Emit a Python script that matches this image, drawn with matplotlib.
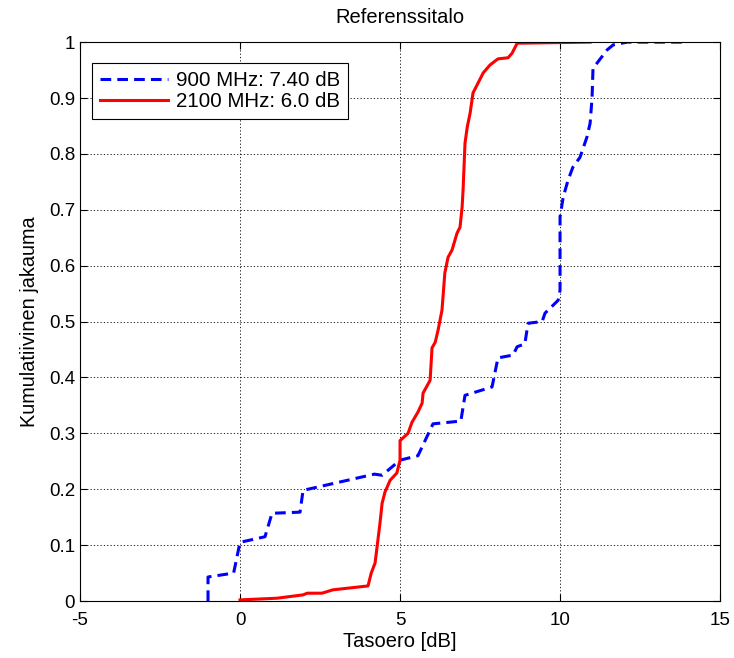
import numpy as np
import matplotlib
matplotlib.use('Agg')
import matplotlib.pyplot as plt

plt.rcParams['font.family'] = ['Liberation Sans', 'DejaVu Sans']
plt.rcParams['axes.unicode_minus'] = False

# 900 MHz cumulative distribution
x900 = [-1.0, -1.0, -0.2, 0.0, 0.78, 1.0, 1.875, 1.97, 4.2, 4.44, 5.0, 5.56, 6.03,
        6.56, 6.9, 7.03, 7.875, 8.06, 8.53, 8.66, 8.9, 9.0, 9.44, 9.53, 9.94,
        10.0, 10.0, 10.1, 10.25, 10.4, 10.625, 10.84, 10.94, 11.0, 11.03, 11.47,
        11.66, 12.1, 14.0]
y900 = [0.0, 0.043, 0.05, 0.105, 0.115, 0.157, 0.159, 0.198, 0.227, 0.225, 0.252, 0.26, 0.317,
        0.32, 0.322, 0.368, 0.383, 0.435, 0.44, 0.455, 0.46, 0.497, 0.5, 0.515, 0.538,
        0.556, 0.687, 0.723, 0.753, 0.776, 0.794, 0.83, 0.855, 0.9, 0.953, 0.986,
        0.995, 1.0, 1.0]

# 2100 MHz cumulative distribution
x2100 = [0.0, 1.15, 1.97, 2.1, 2.56, 2.9, 4.0, 4.1, 4.22, 4.375, 4.44, 4.53, 4.69, 4.9,
         5.0, 5.0, 5.25, 5.375, 5.56, 5.69, 5.72, 5.94, 6.0, 6.1, 6.19, 6.31, 6.34,
         6.4, 6.5, 6.625, 6.78, 6.875, 6.94, 6.97, 7.03, 7.1, 7.19, 7.28, 7.44, 7.6,
         7.81, 8.06, 8.375, 8.5, 8.66, 10.94]
y2100 = [0.002, 0.005, 0.011, 0.014, 0.014, 0.02, 0.027, 0.05, 0.068, 0.14, 0.175, 0.195, 0.216, 0.229,
         0.252, 0.287, 0.30, 0.32, 0.338, 0.354, 0.372, 0.395, 0.453, 0.463, 0.485, 0.52, 0.542,
         0.587, 0.615, 0.628, 0.658, 0.669, 0.705, 0.735, 0.819, 0.848, 0.873, 0.909, 0.927, 0.945,
         0.959, 0.97, 0.972, 0.98, 0.998, 1.0]

fig = plt.figure(figsize=(7.34, 6.58), dpi=100)
ax = fig.add_axes([0.109, 0.0866, 0.872, 0.8494])

ax.plot(x900, y900, color='#0000ff', lw=2.2, ls=(0, (3.5, 2)), label='900 MHz: 7.40 dB')
ax.plot(x2100, y2100, color='#ff0000', lw=2.2, label='2100 MHz: 6.0 dB')

ax.set_xlim(-5, 15)
ax.set_ylim(0, 1)
ax.set_xticks([-5, 0, 5, 10, 15])
ax.set_yticks(np.round(np.arange(0, 1.01, 0.1), 1))
ax.set_yticklabels(['0', '0.1', '0.2', '0.3', '0.4', '0.5', '0.6', '0.7', '0.8', '0.9', '1'])
ax.grid(True, color='black', ls=(0, (1.5, 2.5)), lw=0.6)
ax.tick_params(direction='in', top=True, right=True, length=5, labelsize=13.5, width=0.8)
ax.tick_params(axis='x', pad=8)
for s in ax.spines.values():
    s.set_linewidth(0.8)

ax.set_title('Referenssitalo', fontsize=14.5, pad=14)
ax.set_xlabel('Tasoero [dB]', fontsize=14.5, labelpad=2)
ax.set_ylabel('Kumulatiivinen jakauma', fontsize=14.3, labelpad=7)

leg = ax.legend(loc='upper left', bbox_to_anchor=(0.0188, 0.9624), borderaxespad=0,
                fontsize=14.8, fancybox=False, framealpha=1, edgecolor='black',
                handlelength=3.3, handletextpad=0.4, borderpad=0.38, labelspacing=0.12)
leg.get_frame().set_linewidth(0.8)

fig.savefig('out.png', dpi=100)
